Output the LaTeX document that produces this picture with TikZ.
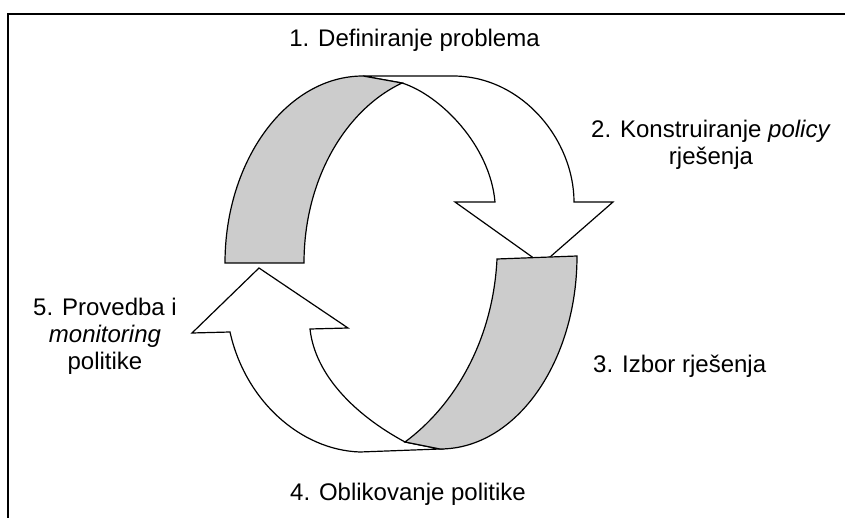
\documentclass[tikz,border=0pt]{standalone}
\usepackage{fontspec}
\setmainfont{Liberation Sans}

\begin{document}
\begin{tikzpicture}
[x=1pt,y=-1pt,%
  whiteBand/.style={fill=white,draw=black,line width=1.2pt,line join=miter},%
  grayBand/.style={fill=black!20,draw=black,line width=1.2pt,line join=miter},%
  frameLine/.style={draw=black,line width=1.6pt},%
  stageText/.style={inner sep=0pt,align=center,font=\fontsize{24}{27}\selectfont}]
\useasboundingbox (0,0) rectangle (845,518);
%% frame (only top and left edge are visible)
\draw[frameLine] (845,14) -- (8,14) -- (8,518);
%% upper arrow: white front
\path[whiteBand] (363,76) -- (453,76)
  .. controls (522,76) and (574,140) .. (574,202)
  -- (613,202) -- (542,264) -- (455,202) -- (495,202)
  .. controls (490,145) and (440,95) .. (402,83) -- cycle;
%% upper arrow: gray back
\path[grayBand] (225,263) .. controls (225,160) and (287,76) .. (363,76)
  -- (402,83) .. controls (345,110) and (304,180) .. (304,263) -- cycle;
%% lower arrow: white front
\path[whiteBand] (440,449) -- (360,452)
  .. controls (300,450) and (245,400) .. (230,332)
  -- (192,333) -- (259,268) -- (348,328) -- (310,329)
  .. controls (315,375) and (355,415) .. (405,442) -- cycle;
%% lower arrow: gray back
\path[grayBand] (497,259) -- (577,256)
  .. controls (577,362) and (516,449) .. (440,449)
  -- (405,442) .. controls (455,405) and (493,340) .. (497,259) -- cycle;
%% stage labels
\foreach \nodename/\x/\y/\pos/\txt in {
  define/414.5/47/base/{1. Definiranje problema},
  construct/711/145/center/{2. Konstruiranje \textit{policy}\\rješenja},
  choose/593/372/base west/{3. Izbor rješenja},
  shape/408/500/base/{4. Oblikovanje politike},
  monitor/105/336/center/{5. Provedba i\\\textit{monitoring}\\politike}}
{
  \node (\nodename) at (\x,\y) [stageText,anchor=\pos] {\txt};
}
\end{tikzpicture}
\end{document}
